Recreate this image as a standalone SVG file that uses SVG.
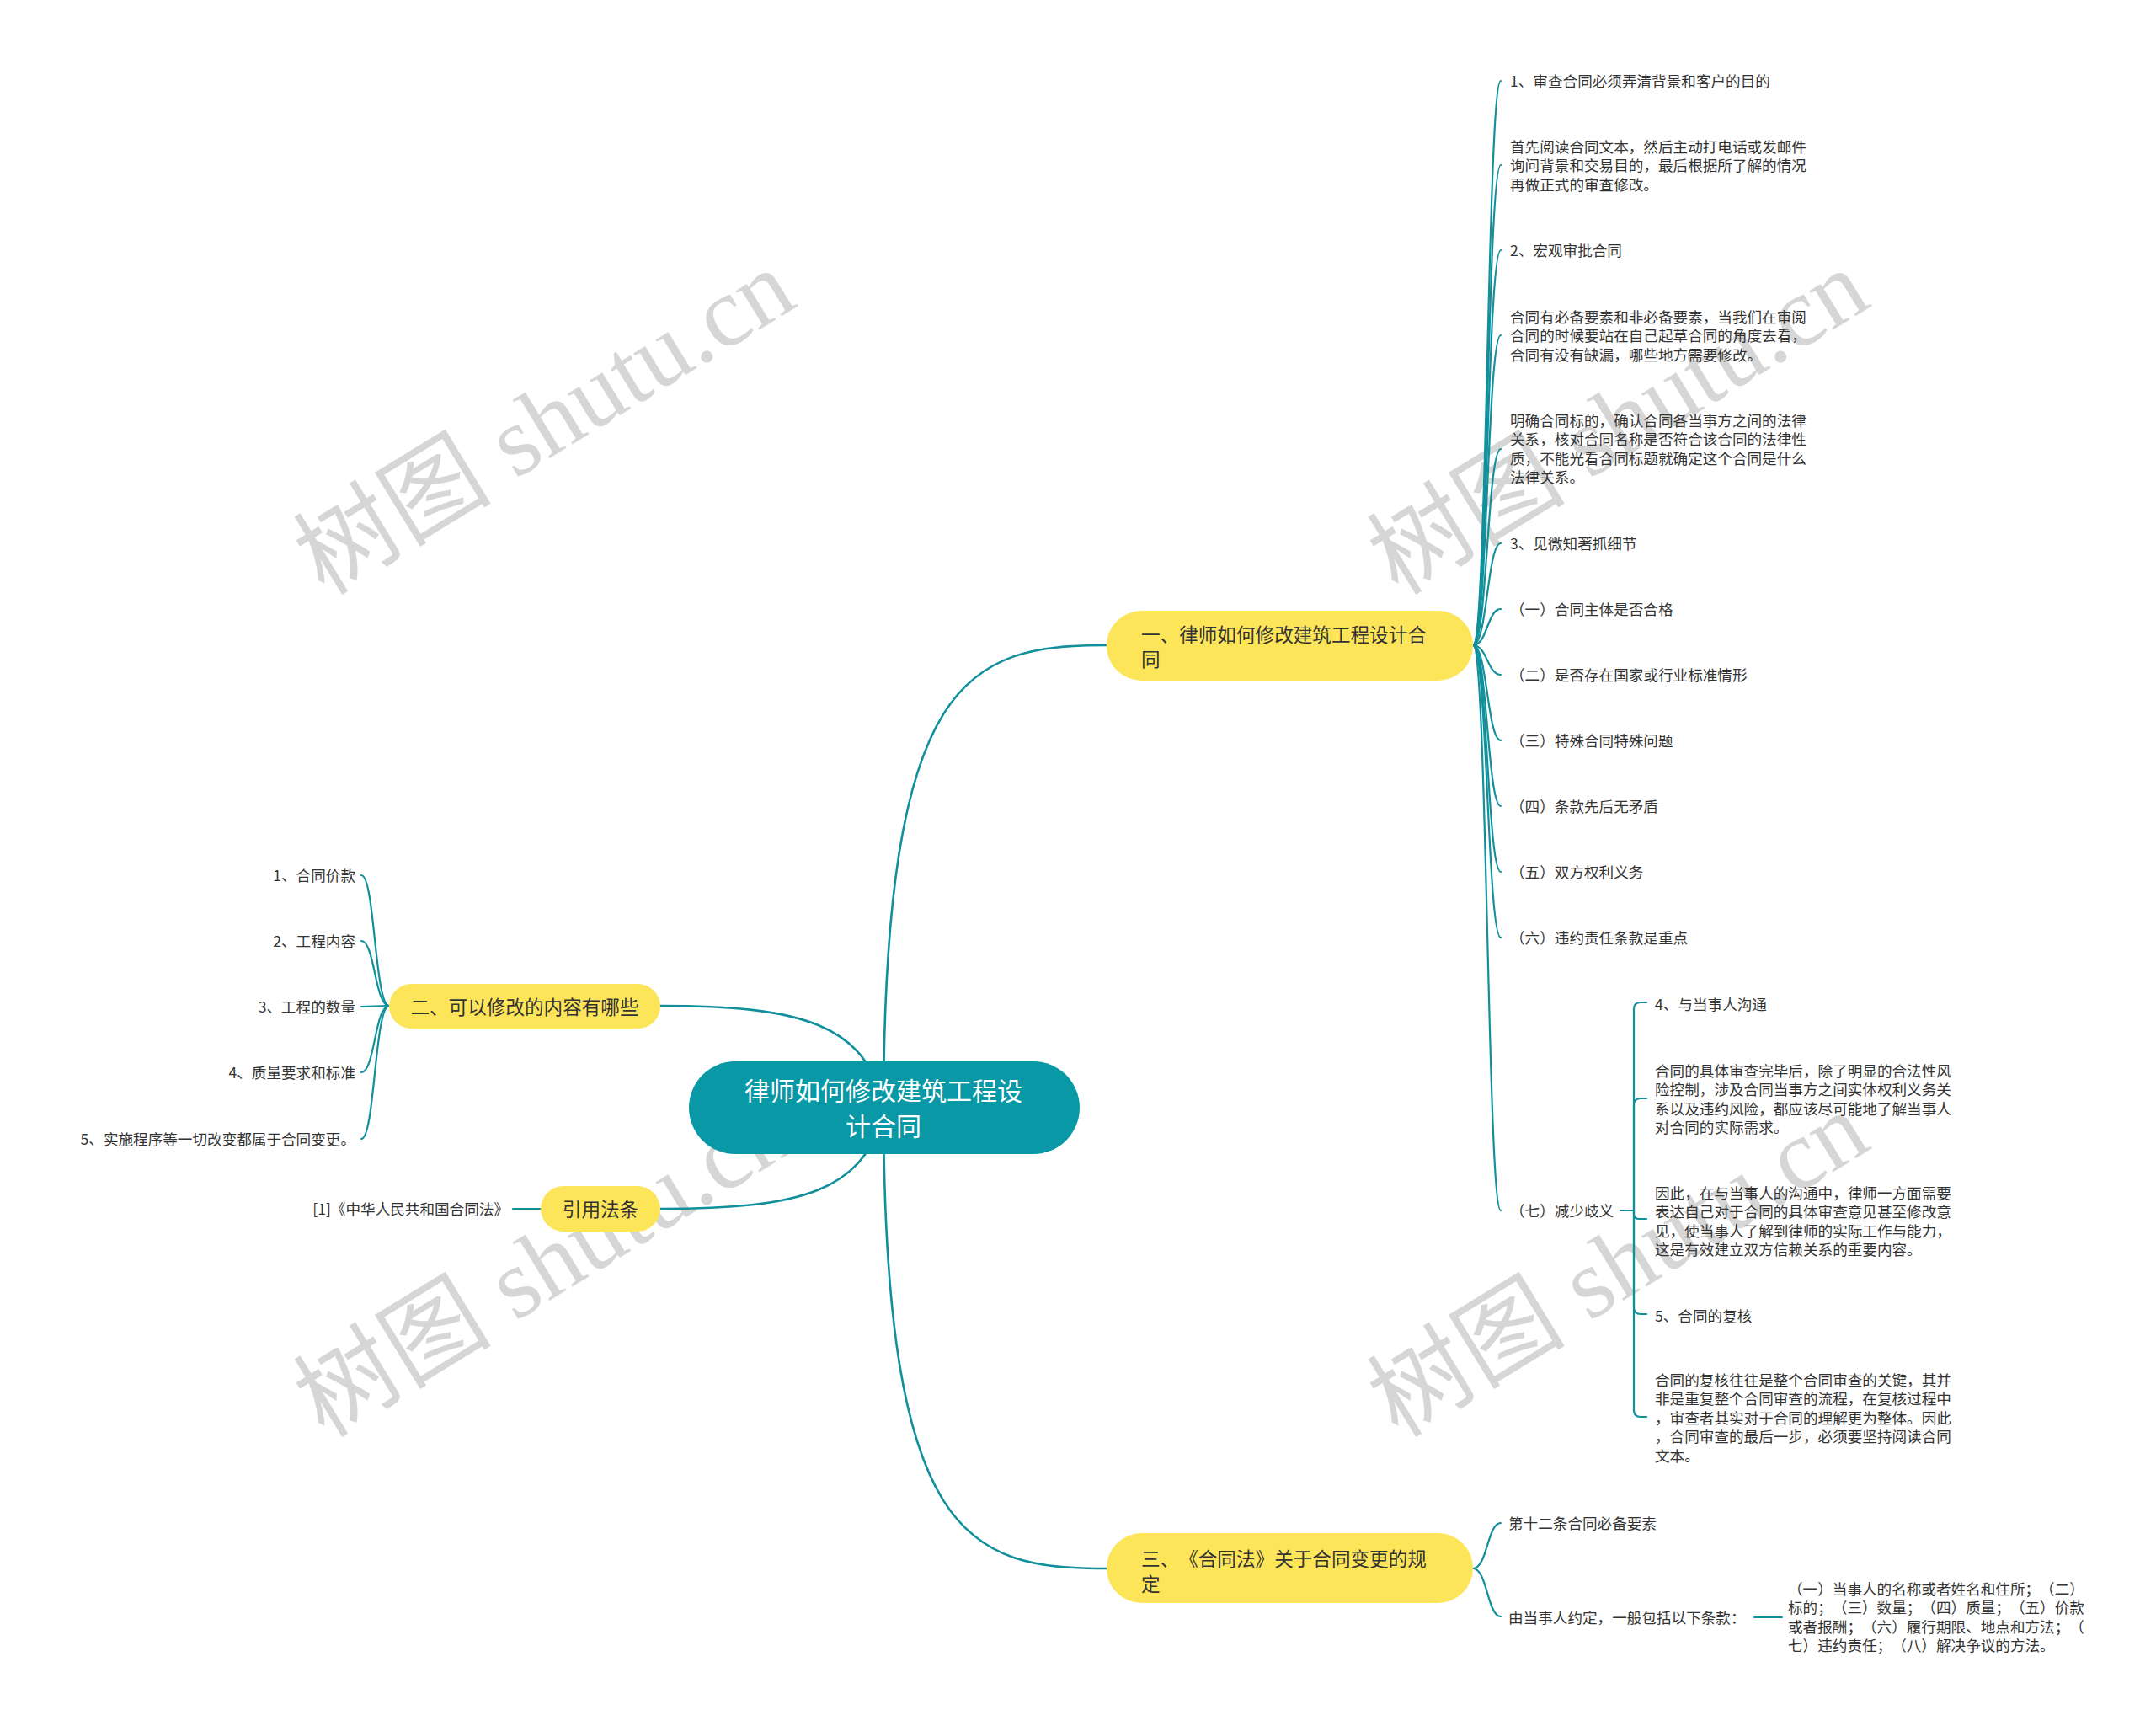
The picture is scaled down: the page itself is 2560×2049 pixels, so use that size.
<svg xmlns="http://www.w3.org/2000/svg" width="2560" height="2049" viewBox="0 0 2560 2049">
<style>
text{text-spacing-trim:space-all;font-feature-settings:"chws" 0,"halt" 0,"palt" 0}
.wm{font-family:"Liberation Serif","Noto Sans CJK SC",serif;font-size:118px;fill:#d6d6d6}
.ln{fill:none;stroke:#11909c;stroke-width:2.2;stroke-linecap:round}
.lm{fill:none;stroke:#11909c;stroke-width:2.6;stroke-linecap:round}
.t{font-family:"Noto Sans CJK SC","Noto Sans CJK TC",sans-serif;font-size:17.6px;fill:#333333}
.tr{font-family:"Noto Sans CJK SC","Noto Sans CJK TC",sans-serif;font-size:17.6px;fill:#333333;text-anchor:end}
.yb{fill:#fde55a}
.yt{font-family:"Noto Sans CJK SC","Noto Sans CJK TC",sans-serif;font-size:22.6px;fill:#333333}
.rt{font-family:"Noto Sans CJK SC","Noto Sans CJK TC",sans-serif;font-size:30px;fill:#ffffff;text-anchor:middle}
</style>
<rect x="0" y="0" width="2560" height="2049" fill="#ffffff"/>
<g id="watermarks">
<text class="wm" x="385" y="708" transform="rotate(-31.5 385 708)">树图 shutu.cn</text>
<text class="wm" x="1660" y="708" transform="rotate(-31.5 1660 708)">树图 shutu.cn</text>
<text class="wm" x="385" y="1708" transform="rotate(-31.5 385 1708)">树图 shutu.cn</text>
<text class="wm" x="1660" y="1708" transform="rotate(-31.5 1660 1708)">树图 shutu.cn</text>
</g>
<g id="connectors">
<path class="lm" d="M1049 1315 C1050 800 1150 766 1314 766"/>
<path class="lm" d="M1049 1315 C1050 1830 1150 1862 1314 1862"/>
<path class="lm" d="M1049 1315 C1030 1215 950 1194 784 1194"/>
<path class="lm" d="M1049 1315 C1030 1415 950 1435 784 1435"/>
<path class="ln" d="M1749 766 C1766 766 1766 96 1782 96"/>
<path class="ln" d="M1749 766 C1766 766 1766 196 1782 196"/>
<path class="ln" d="M1749 766 C1766 766 1766 297 1782 297"/>
<path class="ln" d="M1749 766 C1766 766 1766 398 1782 398"/>
<path class="ln" d="M1749 766 C1766 766 1766 533 1782 533"/>
<path class="ln" d="M1749 766 C1766 766 1766 645 1782 645"/>
<path class="ln" d="M1749 766 C1766 766 1766 723 1782 723"/>
<path class="ln" d="M1749 766 C1766 766 1766 801 1782 801"/>
<path class="ln" d="M1749 766 C1766 766 1766 879 1782 879"/>
<path class="ln" d="M1749 766 C1766 766 1766 957 1782 957"/>
<path class="ln" d="M1749 766 C1766 766 1766 1035 1782 1035"/>
<path class="ln" d="M1749 766 C1766 766 1766 1113 1782 1113"/>
<path class="ln" d="M1749 766 C1766 766 1766 1437 1782 1437"/>
<path class="ln" d="M1924 1437 H1940"/>
<path class="ln" d="M1940 1437 V1198 Q1940 1190 1948 1190 H1955"/>
<path class="ln" d="M1940 1437 V1312 Q1940 1304 1948 1304 H1955"/>
<path class="ln" d="M1940 1437 V1441 Q1940 1447 1946 1447 H1955"/>
<path class="ln" d="M1940 1437 V1552 Q1940 1560 1948 1560 H1955"/>
<path class="ln" d="M1940 1437 V1674 Q1940 1682 1948 1682 H1955"/>
<path class="ln" d="M1749 1862 C1766 1862 1766 1808 1782 1808"/>
<path class="ln" d="M1749 1862 C1766 1862 1766 1919 1782 1919"/>
<path class="ln" d="M2083 1920 L2116 1920"/>
<path class="ln" d="M462 1194 C445 1194 445 1039 429 1039"/>
<path class="ln" d="M462 1194 C445 1194 445 1117 429 1117"/>
<path class="ln" d="M462 1194 C445 1194 445 1195 429 1195"/>
<path class="ln" d="M462 1194 C445 1194 445 1273 429 1273"/>
<path class="ln" d="M462 1194 C445 1194 445 1352 429 1352"/>
<path class="ln" d="M642 1435 L609 1435"/>
</g>
<g id="root">
<rect x="818" y="1260" width="464" height="110" rx="55" fill="#0898a6"/>
<text class="rt" x="1049" y="1306.4">律师如何修改建筑工程设</text>
<text class="rt" x="1049" y="1348.4">计合同</text>
</g>
<g id="n1">
<rect class="yb" x="1314" y="725" width="435" height="83" rx="41.5"/>
<text class="yt" x="1355" y="761.6">一、律师如何修改建筑工程设计合</text>
<text class="yt" x="1355" y="790.6">同</text>
</g>
<g id="n2">
<rect class="yb" x="462" y="1168" width="322" height="53" rx="26.5"/>
<text class="yt" x="623" y="1203.6" text-anchor="middle">二、可以修改的内容有哪些</text>
</g>
<g id="n3">
<rect class="yb" x="1314" y="1820" width="435" height="83" rx="41.5"/>
<text class="yt" x="1355" y="1858.6">三、《合同法》关于合同变更的规</text>
<text class="yt" x="1355" y="1888.6">定</text>
</g>
<g id="n4">
<rect class="yb" x="642" y="1408" width="142" height="54" rx="27"/>
<text class="yt" x="713" y="1443.6" text-anchor="middle">引用法条</text>
</g>
<g id="n1-children">
<text class="t" x="1793" y="102.7">1、审查合同必须弄清背景和客户的目的</text>
<text class="t" x="1793" y="180.7">首先阅读合同文本，然后主动打电话或发邮件</text>
<text class="t" x="1793" y="203.2">询问背景和交易目的，最后根据所了解的情况</text>
<text class="t" x="1793" y="225.7">再做正式的审查修改。</text>
<text class="t" x="1793" y="303.7">2、宏观审批合同</text>
<text class="t" x="1793" y="382.7">合同有必备要素和非必备要素，当我们在审阅</text>
<text class="t" x="1793" y="405.2">合同的时候要站在自己起草合同的角度去看，</text>
<text class="t" x="1793" y="427.7">合同有没有缺漏，哪些地方需要修改。</text>
<text class="t" x="1793" y="505.7">明确合同标的，确认合同各当事方之间的法律</text>
<text class="t" x="1793" y="528.2">关系，核对合同名称是否符合该合同的法律性</text>
<text class="t" x="1793" y="550.7">质，不能光看合同标题就确定这个合同是什么</text>
<text class="t" x="1793" y="573.2">法律关系。</text>
<text class="t" x="1793" y="651.7">3、见微知著抓细节</text>
<text class="t" x="1793" y="729.7">（一）合同主体是否合格</text>
<text class="t" x="1793" y="807.7">（二）是否存在国家或行业标准情形</text>
<text class="t" x="1793" y="885.7">（三）特殊合同特殊问题</text>
<text class="t" x="1793" y="963.7">（四）条款先后无矛盾</text>
<text class="t" x="1793" y="1041.7">（五）双方权利义务</text>
<text class="t" x="1793" y="1119.7">（六）违约责任条款是重点</text>
<text class="t" x="1793" y="1443.7">（七）减少歧义</text>
</g>
<g id="n1-7-children">
<text class="t" x="1965" y="1198.7">4、与当事人沟通</text>
<text class="t" x="1965" y="1277.7">合同的具体审查完毕后，除了明显的合法性风</text>
<text class="t" x="1965" y="1300.2">险控制，涉及合同当事方之间实体权利义务关</text>
<text class="t" x="1965" y="1322.7">系以及违约风险，都应该尽可能地了解当事人</text>
<text class="t" x="1965" y="1345.2">对合同的实际需求。</text>
<text class="t" x="1965" y="1422.7">因此，在与当事人的沟通中，律师一方面需要</text>
<text class="t" x="1965" y="1445.2">表达自己对于合同的具体审查意见甚至修改意</text>
<text class="t" x="1965" y="1467.7">见，使当事人了解到律师的实际工作与能力，</text>
<text class="t" x="1965" y="1490.2">这是有效建立双方信赖关系的重要内容。</text>
<text class="t" x="1965" y="1568.7">5、合同的复核</text>
<text class="t" x="1965" y="1644.7">合同的复核往往是整个合同审查的关键，其并</text>
<text class="t" x="1965" y="1667.2">非是重复整个合同审查的流程，在复核过程中</text>
<text class="t" x="1965" y="1689.7">，审查者其实对于合同的理解更为整体。因此</text>
<text class="t" x="1965" y="1712.2">，合同审查的最后一步，必须要坚持阅读合同</text>
<text class="t" x="1965" y="1734.7">文本。</text>
</g>
<g id="n3-children">
<text class="t" x="1791" y="1814.7">第十二条合同必备要素</text>
<text class="t" x="1791" y="1926.7">由当事人约定，一般包括以下条款：</text>
<text class="t" x="2123" y="1892.7">（一）当事人的名称或者姓名和住所；（二）</text>
<text class="t" x="2123" y="1915.2">标的；（三）数量；（四）质量；（五）价款</text>
<text class="t" x="2123" y="1937.7">或者报酬；（六）履行期限、地点和方法；（</text>
<text class="t" x="2123" y="1960.2">七）违约责任；（八）解决争议的方法。</text>
</g>
<g id="n2-children">
<text class="tr" x="422" y="1045.7">1、合同价款</text>
<text class="tr" x="422" y="1123.7">2、工程内容</text>
<text class="tr" x="422" y="1201.7">3、工程的数量</text>
<text class="tr" x="422" y="1279.7">4、质量要求和标准</text>
<text class="tr" x="422" y="1358.7">5、实施程序等一切改变都属于合同变更。</text>
</g>
<g id="n4-children">
<text class="tr" x="604" y="1441.7">[1]《中华人民共和国合同法》</text>
</g>
</svg>
